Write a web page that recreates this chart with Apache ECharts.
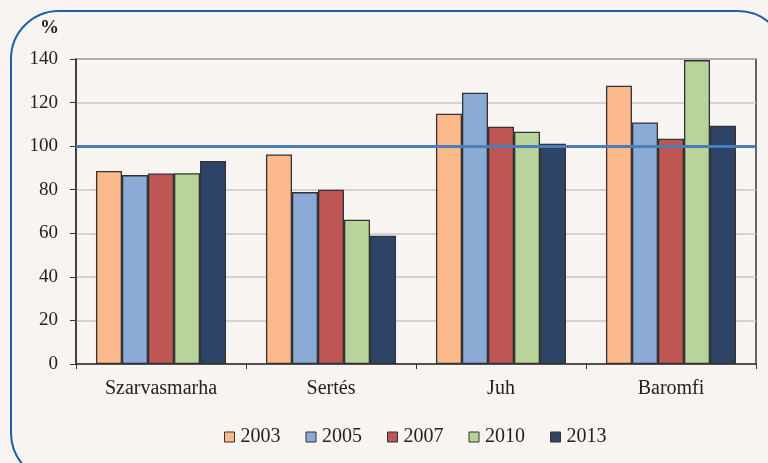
<!DOCTYPE html>
<html style="height: 100%">
<head>
<meta charset="utf-8">
<script src="https://cdn.jsdelivr.net/npm/echarts@6/dist/echarts.min.js"></script>
</head>
<body style="height: 100%; margin: 0; background: #f7f4f1">
<div id="container" style="width: 768px; height: 463px"></div>
<script type="text/javascript">
var categories = ['Szarvasmarha', 'Sertés', 'Juh', 'Baromfi'];
var years = ['2003', '2005', '2007', '2010', '2013'];
var v2003 = [88.6, 96.2, 114.9, 127.7];
var v2005 = [86.7, 78.9, 124.5, 110.9];
var v2007 = [87.5, 80.0, 108.9, 103.4];
var v2010 = [87.6, 66.2, 106.6, 139.5];
var v2013 = [93.2, 58.9, 101.1, 109.4];
var yTicks = [0, 20, 40, 60, 80, 100, 120, 140];
var colors = ['#fcb98b', '#8aabd6', '#be5654', '#b8d39c', '#2e4466'];

var font = '"Liberation Serif", "DejaVu Serif", serif';
var seriesValues = [v2003, v2005, v2007, v2010, v2013];

var series = years.map(function (y, i) {
    var s = {
        name: y,
        type: 'bar',
        data: seriesValues[i],
        barGap: '0%',
        barCategoryGap: '23.5%',
        itemStyle: { color: colors[i], borderColor: '#333', borderWidth: 1.3 }
    };
    if (i === 0) {
        s.markLine = {
            silent: true,
            symbol: 'none',
            label: { show: false },
            lineStyle: { color: '#4a7ebb', width: 3, type: 'solid' },
            data: [{ yAxis: 100 }]
        };
    }
    return s;
});

var myChart = echarts.init(document.getElementById('container'));
myChart.setOption({
    backgroundColor: '#f7f4f1',
    animation: false,
    color: colors,
    textStyle: { fontFamily: font },
    graphic: [{
        type: 'rect',
        shape: { x: 11, y: 11, width: 775, height: 470, r: 48 },
        style: { fill: 'none', stroke: '#1f5fa6', lineWidth: 2 },
        z: -1
    }, {
        type: 'text',
        left: 40, top: 19,
        style: { text: '%', fontFamily: font, fontSize: 19, fontWeight: 'bold', fill: '#222' }
    }],
    grid: {
        left: 76, right: 12, top: 59, bottom: 99,
        show: true, borderColor: '#333', borderWidth: 1.5,
        backgroundColor: 'transparent'
    },
    legend: {
        data: years,
        bottom: 11,
        left: 219,
        itemWidth: 10,
        itemHeight: 10,
        itemGap: 25,
        icon: 'rect',
        itemStyle: { borderColor: '#333', borderWidth: 1 },
        textStyle: { fontFamily: font, fontSize: 20, color: '#222', padding: [0, 0, 0, 1] }
    },
    xAxis: {
        type: 'category',
        data: categories,
        axisLine: { lineStyle: { color: '#333', width: 1.5 } },
        axisTick: { show: true, length: 5, lineStyle: { color: '#333' } },
        axisLabel: { fontFamily: font, fontSize: 20, color: '#222', margin: 15 }
    },
    yAxis: {
        type: 'value',
        min: 0, max: 140, interval: 20,
        axisLine: { show: true, lineStyle: { color: '#333', width: 1.5 } },
        axisTick: { show: true, length: 6, lineStyle: { color: '#333' } },
        axisLabel: {
            fontFamily: font, fontSize: 19, color: '#222', margin: 18,
            formatter: function (v) { return yTicks.indexOf(v) >= 0 ? String(v) : ''; }
        },
        splitLine: { lineStyle: { color: '#c8c8c8', width: 1.5 } }
    },
    series: series
});
window.onresize = function () { myChart.resize(); };
</script>
</body>
</html>
